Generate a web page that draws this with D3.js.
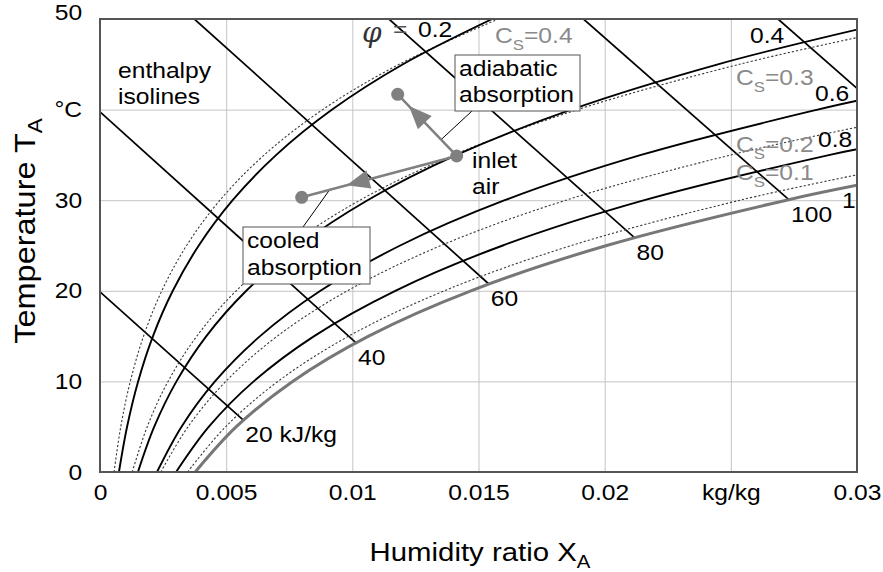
<!DOCTYPE html>
<html><head><meta charset="utf-8">
<script src="https://cdn.jsdelivr.net/npm/d3@7"></script>
<style>body{margin:0;background:#fff}svg{display:block}text{font-family:"Liberation Sans",Arial,sans-serif}</style>
</head><body><svg id="c" width="883" height="572"></svg>
<script>
// ---------- data ----------
const xTicks=[0,0.005,0.01,0.015,0.02,0.025,0.03];
const xTickLabels=["0","0.005","0.01","0.015","0.02","kg/kg","0.03"];
const yTicks=[0,10,20,30,40,50];
const yTickLabels=["0","10","20","30","°C","50"];

// relative humidity isolines (T in °C, X in kg/kg)
const T_rh02=[0,5,10,15,20,25,30,35,40,45,50];
const X_rh02=[0.000751,0.001073,0.001511,0.002100,0.002885,0.003915,0.005257,0.006987,0.009200,0.012007,0.015544];
const T_rh04=[0,5,10,15,20,25,30,35,40,45,48.83];
const X_rh04=[0.001504,0.002150,0.003030,0.004215,0.005797,0.007880,0.010604,0.014133,0.018675,0.024488,0.0300];
const T_rh06=[0,5,10,15,20,25,30,35,40,40.98];
const X_rh06=[0.002259,0.003231,0.004556,0.006344,0.008736,0.011895,0.016042,0.021444,0.028440,0.0300];
const T_rh08=[0,5,10,15,20,25,30,35,35.62];
const X_rh08=[0.003016,0.004315,0.006090,0.008487,0.011703,0.015962,0.021575,0.028924,0.0300];
const T_rh10=[0,5,10,15,20,25,30,31.64];
const X_rh10=[0.003775,0.005403,0.007631,0.010646,0.014698,0.020082,0.027205,0.0300];

// solution concentration isolines (dotted)
const T_cs04=[0,5,10,15,20,25,30,35,40,45,50];
const X_cs04=[0.000556,0.000823,0.001201,0.001727,0.002450,0.003433,0.004754,0.006511,0.008826,0.011855,0.015784];
const T_cs03=[0,5,10,15,20,25,30,35,40,45,47.95];
const X_cs03=[0.001278,0.001871,0.002697,0.003838,0.005397,0.007496,0.010305,0.014027,0.018925,0.025339,0.0300];
const T_cs02=[0,5,10,15,20,25,30,35,38.05];
const X_cs02=[0.002411,0.003490,0.004985,0.007028,0.009801,0.013515,0.018465,0.025013,0.0300];
const T_cs01=[0,5,10,15,20,25,30,32.8];
const X_cs01=[0.003471,0.004981,0.007052,0.009861,0.013646,0.018686,0.025364,0.0300];

// enthalpy isolines (kJ/kg)
const hLabels=["20 kJ/kg","40","60","80","100",""];
const hStartX=[0,0,0.003739,0.011450,0.019160,0.026870];
const hStartT=[19.88,39.76,50,50,50,50];
const hEndX=[0.00568,0.01015,0.01541,0.02118,0.02731,0.0300];
const hEndT=[5.72,14.26,20.75,25.86,30.03,42.35];

// process states [X, T]
const inletAir=[0.014136,34.88];
const adiabaticEnd=[0.011798,41.69];
const cooledEnd=[0.007993,30.32];

// ---------- chart ----------
const svg=d3.select("#c");
const L=100,R=857,TOP=19,BOT=472;
const x=d3.scaleLinear().domain([0,0.03]).range([L,R]);
const y=d3.scaleLinear().domain([0,50]).range([BOT,TOP]);
const SX=1.12;

svg.append("defs").append("clipPath").attr("id","clip")
  .append("rect").attr("x",L).attr("y",TOP).attr("width",R-L).attr("height",BOT-TOP);

// grid + tick labels via axes
const gx=svg.append("g").attr("transform",`translate(0,${BOT})`)
  .call(d3.axisBottom(x).tickValues(xTicks).tickFormat((d,i)=>xTickLabels[i]).tickSize(-(BOT-TOP)).tickPadding(12));
const gy=svg.append("g").attr("transform",`translate(${L},0)`)
  .call(d3.axisLeft(y).tickValues(yTicks).tickFormat((d,i)=>yTickLabels[i]).tickSize(-(R-L)).tickPadding(16));
[gx,gy].forEach(g=>{
  g.select(".domain").remove();
  g.selectAll("line").attr("stroke","#c4c4c4").attr("stroke-width",1);
  g.selectAll("text").attr("fill","#000").style("font-size","22px")
    .attr("transform",`scale(${SX},1)`);
});
gy.selectAll(".tick").filter(d=>d===50).select("text").attr("dy","0.0em");

const plot=svg.append("g").attr("clip-path","url(#clip)");
const line=d3.line().x(d=>x(d[1])).y(d=>y(d[0])).curve(d3.curveCatmullRom.alpha(0.5));
const pts=(T,X)=>T.map((t,i)=>[t,X[i]]);

// enthalpy lines
hStartX.forEach((sx,i)=>{
  plot.append("line").attr("x1",x(sx)).attr("y1",y(hStartT[i]))
    .attr("x2",x(hEndX[i])).attr("y2",y(hEndT[i]))
    .attr("stroke","#000").attr("stroke-width",1.7);
});

// dotted concentration lines
[[T_cs04,X_cs04],[T_cs03,X_cs03],[T_cs02,X_cs02],[T_cs01,X_cs01]].forEach(([T,X])=>{
  plot.append("path").attr("d",line(pts(T,X))).attr("fill","none")
    .attr("stroke","#3a3a3a").attr("stroke-width",1.1).attr("stroke-dasharray","2.2,2");
});
// relative humidity lines
[[T_rh02,X_rh02],[T_rh04,X_rh04],[T_rh06,X_rh06],[T_rh08,X_rh08]].forEach(([T,X])=>{
  plot.append("path").attr("d",line(pts(T,X))).attr("fill","none")
    .attr("stroke","#000").attr("stroke-width",1.9);
});
plot.append("path").attr("d",line(pts(T_rh10,X_rh10))).attr("fill","none")
  .attr("stroke","#777").attr("stroke-width",3);

// frame
svg.append("rect").attr("x",L).attr("y",TOP).attr("width",R-L).attr("height",BOT-TOP)
  .attr("fill","none").attr("stroke","#555").attr("stroke-width",2);

// text helper
function txt(px,py,parts,opt={}){
  const t=svg.append("text").attr("transform",`translate(${px},${py})${opt.rot?` rotate(${opt.rot})`:""} scale(${opt.sx||SX},1)`)
    .attr("text-anchor",opt.anchor||"start").attr("fill",opt.fill||"#000")
    .style("font-size",(opt.size||22)+"px");
  if(typeof parts==="string") parts=[[parts]];
  parts.forEach(p=>{
    const s=t.append("tspan").text(p[0]);
    if(p[1]) s.style("font-size",p[1]+"px");
    if(p[2]) s.attr("dy",p[2]);
    if(p[3]) s.style("font-family",p[3]).style("font-style","italic");
  });
  return t;
}

// enthalpy labels
hLabels.forEach((lab,i)=>{ if(lab) txt(x(hEndX[i])+2,y(hEndT[i])+22,lab); });

// rh labels
txt(362,42,[["φ",28,0,"DejaVu Serif"]],{fill:"#333",sx:1});
txt(393,37,"=",{fill:"#555"});
txt(418,37,"0.2");
txt(750,43,"0.4");
txt(815,101,"0.6");
txt(818,147,"0.8");
txt(842,208,"1");

// concentration labels
const grey="#8a8a8a";
txt(495,43,[["C"],["S",15,7],["=0.4",22,-7]],{fill:grey});
txt(736,85,[["C"],["S",15,7],["=0.3",22,-7]],{fill:grey});
txt(736,152,[["C"],["S",15,7],["=0.2",22,-7]],{fill:grey});
txt(736,180,[["C"],["S",15,7],["=0.1",22,-7]],{fill:grey});

// other labels
txt(118,78,"enthalpy");
txt(118,104,"isolines");

// process
const P=d=>[x(d[0]),y(d[1])];
const pin=P(inletAir);
function proc(endD,tipFrac,leadFrac,boxPt){
  const pe=P(endD);
  const dx=pe[0]-pin[0],dy=pe[1]-pin[1],len=Math.hypot(dx,dy),ux=dx/len,uy=dy/len;
  svg.append("line").attr("x1",pin[0]+dx*leadFrac).attr("y1",pin[1]+dy*leadFrac)
    .attr("x2",boxPt[0]).attr("y2",boxPt[1]).attr("stroke","#000").attr("stroke-width",1);
  svg.append("line").attr("x1",pin[0]).attr("y1",pin[1]).attr("x2",pe[0]).attr("y2",pe[1])
    .attr("stroke","#808080").attr("stroke-width",2.5);
  const tip=[pin[0]+dx*tipFrac,pin[1]+dy*tipFrac];
  const bc=[tip[0]-ux*23,tip[1]-uy*23];
  const hw=9.5;
  svg.append("path").attr("d",`M${tip}L${bc[0]-uy*hw},${bc[1]+ux*hw}L${bc[0]+uy*hw},${bc[1]-ux*hw}Z`)
    .attr("fill","#808080");
  svg.append("circle").attr("cx",pe[0]).attr("cy",pe[1]).attr("r",6.5).attr("fill","#808080");
}
proc(adiabaticEnd,0.81,0.265,[472,111]);
proc(cooledEnd,0.71,0.82,[303,227]);
svg.append("circle").attr("cx",pin[0]).attr("cy",pin[1]).attr("r",6.5).attr("fill","#808080");

// annotation boxes
svg.append("rect").attr("x",455).attr("y",55).attr("width",125).attr("height",56)
  .attr("fill","#fff").attr("stroke","#555").attr("stroke-width",1);
txt(459,76,"adiabatic");
txt(459,102,"absorption");
svg.append("rect").attr("x",243).attr("y",227).attr("width",127).attr("height",57)
  .attr("fill","#fff").attr("stroke","#555").attr("stroke-width",1);
txt(247,248,"cooled");
txt(247,275,"absorption");
txt(472,168,"inlet");
txt(472,194,"air");

// axis titles
txt(480,561,[["Humidity ratio X"],["A",18,7]],{anchor:"middle",size:26,sx:1.13});
txt(35,231,[["Temperature T"],["A",20,7]],{anchor:"middle",size:29,sx:1.12,rot:-90});
</script></body></html>
